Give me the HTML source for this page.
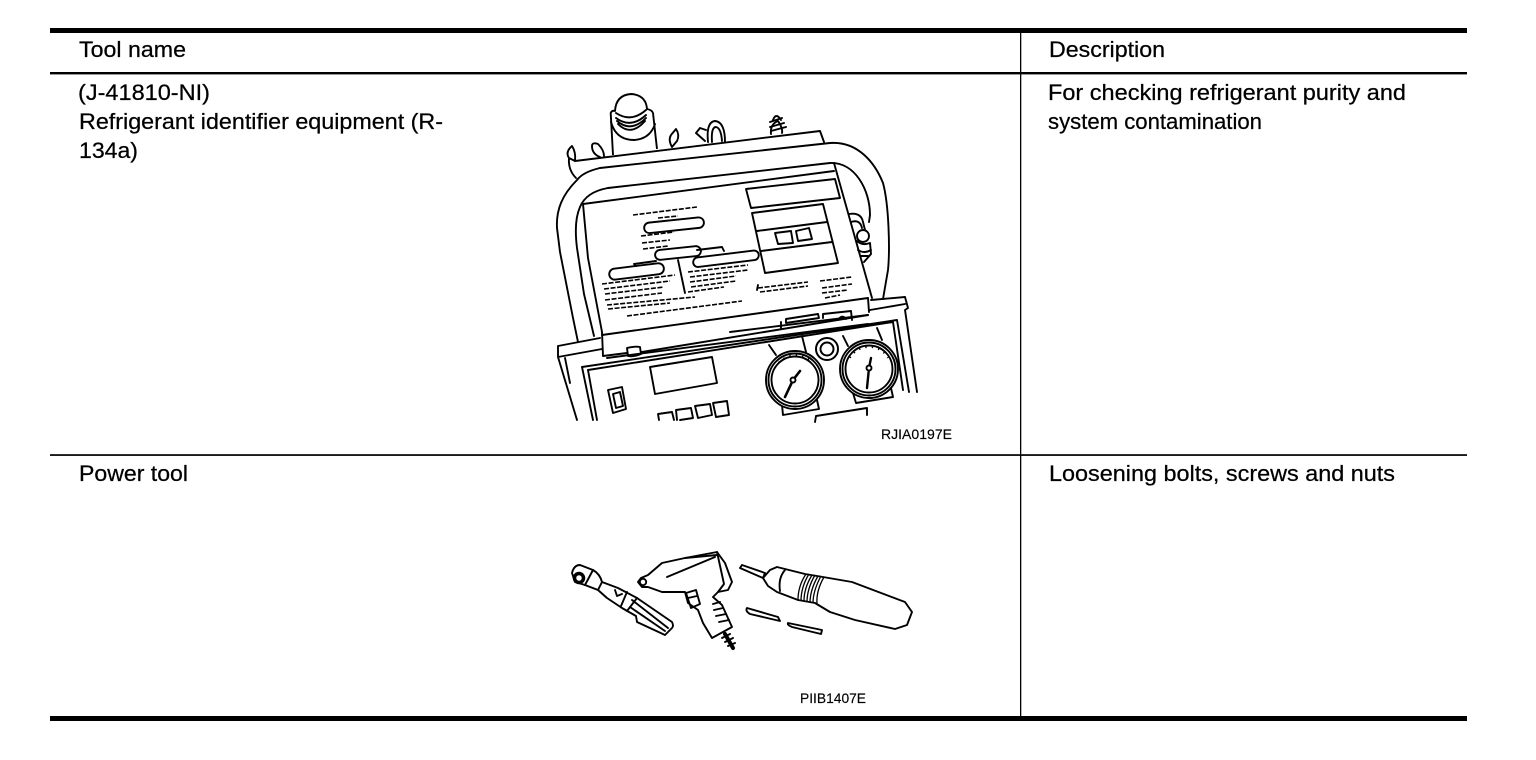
<!DOCTYPE html>
<html lang="en">
<head>
<meta charset="utf-8">
<title>Tool table</title>
<style>
html,body{margin:0;padding:0;background:#fff;}
svg{display:block;}
text{font-family:"Liberation Sans",Arial,sans-serif;fill:#000;}
.d{fill:none;stroke:#000;stroke-width:1.9;stroke-linejoin:round;stroke-linecap:round;}
.f{fill:#fff;stroke:#000;stroke-width:1.9;stroke-linejoin:round;}
.t{fill:none;stroke:#000;stroke-width:2;}
.g{fill:none;stroke:#000;stroke-width:1.3;}
.da{fill:none;stroke:#000;stroke-width:1.6;stroke-dasharray:5 1.6;}
.m{font-size:22.6px;stroke:#000;stroke-width:.25;}
.s{font-size:14px;stroke:#000;stroke-width:.15;}
</style>
</head>
<body>
<svg width="1536" height="760" viewBox="0 0 1536 760" xmlns="http://www.w3.org/2000/svg">
<rect width="1536" height="760" fill="#fff"/>

<!-- table rules -->
<rect x="50" y="28" width="1417" height="5" fill="#000"/>
<rect x="50" y="72" width="1417" height="2.4" fill="#000"/>
<rect x="50" y="454.2" width="1417" height="1.7" fill="#000"/>
<rect x="50" y="716" width="1417" height="5" fill="#000"/>
<rect x="1020" y="33" width="1.3" height="684" fill="#000"/>

<!-- text -->
<text class="m" x="79" y="57" textLength="107" lengthAdjust="spacingAndGlyphs">Tool name</text>
<text class="m" x="1049" y="57" textLength="116" lengthAdjust="spacingAndGlyphs">Description</text>
<text class="m" x="78" y="100" textLength="132" lengthAdjust="spacingAndGlyphs">(J-41810-NI)</text>
<text class="m" x="79" y="129" textLength="364" lengthAdjust="spacingAndGlyphs">Refrigerant identifier equipment (R-</text>
<text class="m" x="79" y="158" textLength="59" lengthAdjust="spacingAndGlyphs">134a)</text>
<text class="m" x="1048" y="100" textLength="358" lengthAdjust="spacingAndGlyphs">For checking refrigerant purity and</text>
<text class="m" x="1048" y="129" textLength="214" lengthAdjust="spacingAndGlyphs">system contamination</text>
<text class="m" x="79" y="481" textLength="109" lengthAdjust="spacingAndGlyphs">Power tool</text>
<text class="m" x="1049" y="481" textLength="346" lengthAdjust="spacingAndGlyphs">Loosening bolts, screws and nuts</text>
<text class="s" x="881" y="439" textLength="71" lengthAdjust="spacingAndGlyphs">RJIA0197E</text>
<text class="s" x="800" y="703" textLength="66" lengthAdjust="spacingAndGlyphs">PIIB1407E</text>

<!-- refrigerant identifier -->
<g>
  <!-- cylinder on top -->
  <path class="f" d="M613 155 L610.7 113 Q612 110 615 111 Q616 95 631 94 Q646 95 647 109 Q652 110 653 113 L657 149"/>
  <path class="d" d="M616 113 Q631 123 646 110 M616 118 Q631 129 646 115 M617 121 Q631 133 646 118 M618 124 Q631 137 645 121"/>
  <path class="d" d="M611 122 Q616 140 634 140 Q650 139 655 124"/>
  <!-- leaves / loops -->
  <path class="d" d="M575 161 L569 158 Q565 152 572 146 Q576 152 575 161 M569 158 Q568 170 576 178"/>
  <path class="d" d="M600 157 Q592 154 592 146 Q592 142 598 144 Q604 150 604 156"/>
  <path class="d" d="M672 147 Q668 140 671 135 L676 129 Q680 135 677 141 Z"/>
  <path class="d" d="M705 141 L696 133 L700 128 L706 130 M708 142 Q706 122 715 121 Q725 122 725 142 M712 142 Q711 127 716 127 Q721 128 722 141"/>
  <path class="d" d="M771 134 Q770 124 778 121 Q783 128 782 133"/>
  <path class="d" d="M770 122 L782 118 M770 127 L784 123 M771 131 L786 127 M773 120 Q776 112 781 120"/>
  <!-- knobs at right, behind handle -->
  <path class="d" d="M849 214 Q861 212 863 222 L866 234 M851 222 Q860 219 862 228"/>
  <circle class="f" cx="863" cy="236" r="6"/>
  <path class="d" d="M857 241 Q862 246 870 243 L871 254 L864 262 M858 250 Q864 254 871 250"/>
  <path class="d" d="M861 256 L868 256"/>

  <!-- handle -->
  <path class="d" d="M575 161 L820 131 L824 142"/>
  <path class="d" d="M600 168 L830 143 C858 141 875 163 883 183 C889 205 890 250 888 270 L883 299"/>
  <path class="d" d="M577 180 Q583 172 600 168 M577 180 C562 195 556 210 557 228 L560 252 L573 318 L578 342"/>
  <path class="d" d="M608 188 L830 163 C855 162 870 190 870 215 L869 222"/>
  <path class="d" d="M608 188 Q586 192 580 207 C575 218 575 232 577 248 L584 294 L594 336"/>
  <!-- device body -->
  <path class="d" d="M583 204 L834 171"/>
  <path class="d" d="M834 163 L872 298"/>
  <path class="d" d="M583 204 L588 258 L602 332 L603 356"/>
  <path class="d" d="M602 335 L868 298 L869 312"/>
  <path class="d" d="M603 356 L627 353 M642 352 L868 315"/>
  <path class="d" d="M627 348 Q636 346 640 347 L641 354 Q634 357 628 356 Z"/>
  <!-- displays -->
  <path class="d" d="M746 189 L835 179 L840 198 L751 208 Z"/>
  <path class="d" d="M752 213 L823 204 L838 263 L765 273 Z M757 231 L827 222 M761 251 L832 242"/>
  <path class="d" d="M775 233 L791 231 L793 243 L778 244 Z M796 231 L809 228 L812 239 L798 241 Z"/>
  <!-- pills -->
  <rect class="f" x="644" y="220" width="60" height="10.5" rx="5.2" transform="rotate(-6 674 225)"/>
  <rect class="f" x="655" y="248" width="46" height="10" rx="5" transform="rotate(-6 678 253)"/>
  <rect class="f" x="609" y="266" width="55" height="11" rx="5.5" transform="rotate(-7 636 271)"/>
  <rect class="f" x="693" y="254" width="66" height="9.5" rx="4.7" transform="rotate(-7 726 259)"/>
  <path class="d" d="M634 264 L656 261 M634 264 L636 266 M697 250 L722 247 L724 251"/>
  <path class="d" d="M678 260 L685 293"/>
  <!-- fine text -->
  <path class="da" d="M633 215 L697 207 M658 218 L678 216 M641 236 L674 232 M642 243 L670 240 M643 249 L668 246"/>
  <path class="da" d="M602 284 L675 275 M604 289 L670 281 M605 294 L664 287 M605 300 L662 293 M607 305 L695 297 M608 309 L670 303 M627 316 L742 301"/>
  <path class="da" d="M688 272 L748 265 M690 277 L748 270 M690 282 L736 276 M691 287 L736 281 M688 292 L724 287"/>
  <path class="da" d="M758 288 L808 282 M820 281 L852 277 M822 288 L852 284 M822 293 L848 290 M825 298 L840 295"/>
  <path class="d" d="M757 290 L758 285"/>
  <path class="da" d="M760 292 L808 286"/>
  <!-- bar on lower right of device -->
  <path class="d" d="M786 323 L786 319 L818 314 L819 318 Z M781 328 L781 322 M823 318 L823 314 L851 311 L852 320 M838 320 Q842 314 846 319"/>

  <!-- base -->
  <path class="d" d="M558 346 L600 338 M558 346 L558 357 L602 349 M558 357 L577 420 M565 358 L570 383"/>
  <path class="d" d="M870 310 L905 304 M871 300 L905 297 L908 308 L905 310 L917 392"/>
  <path class="d" d="M607 358 L868 324 M730 332 L868 315"/>
  <path class="d" d="M582 367 L897 320 L909 392 M588 370 L893 322 L903 390"/>
  <path class="d" d="M582 367 L593 420 M588 370 L597 420"/>
  <path class="d" d="M650 367 L712 357 L717 383 L655 394 Z"/>
  <path class="d" d="M608 390 L622 387 L626 409 L613 413 Z M613 394 L620 392 L623 406 L616 408 Z"/>
  <path class="d" d="M659 420 L658 414 L672 412 L674 420 M677 420 L676 410 L691 408 L693 418 L680 420 M695 406 L710 404 L712 415 L698 418 Z M713 403 L727 401 L729 415 L716 417 Z"/>
  <!-- gauges -->
  <path class="d" d="M769 345 L776 355 M802 336 L806 352 M843 336 L848 346 M877 328 L882 340"/>
  <circle class="t" cx="827" cy="349" r="11"/>
  <circle class="t" cx="827" cy="349" r="6.5"/>
  <path class="d" d="M782 405 L783 415 L819 409 L817 400"/>
  <path class="d" d="M853 393 L856 403 L893 397 L891 388"/>
  <path class="d" d="M815 422 L816 416 L867 408 L867 415"/>
  <circle class="f" cx="795" cy="380" r="29"/>
  <circle class="d" cx="795" cy="380" r="26.5"/>
  <circle class="d" cx="795" cy="380" r="23.5"/>
  <circle class="f" cx="869" cy="369" r="29"/>
  <circle class="d" cx="869" cy="369" r="26.5"/>
  <circle class="d" cx="869" cy="369" r="23.5"/>
  <path class="d" style="stroke-width:2.6" d="M785 397 L793 380 L800 371"/>
  <circle class="f" cx="793" cy="380" r="2.5"/>
  <path class="d" style="stroke-width:2.4" d="M867 388 L869 368 L871 358"/>
  <circle class="f" cx="869" cy="368" r="2.5"/>
  <path class="da" style="stroke-dasharray:1.4 5" d="M775 368 A23 23 0 0 1 812 362 M850 358 A22 22 0 0 1 888 358"/>
</g>

<!-- ratchet -->
<g>
  <path class="f" d="M572 573 Q574 565 580 565 L593 570 Q600 574 602 582 L618 588 L637 598 L672 622 Q674 626 672 628 L665 635 L637 622 L636 616 L622 608 L607 598 L598 590 L585 585 L575 582 Z"/>
  <circle class="d" style="stroke-width:3.5" cx="579" cy="578" r="4.5"/>
  <path class="d" d="M593 570 L585 585 M602 582 L598 590"/>
  <path class="d" d="M627 592 L621 606 M637 598 L627 611 M632 600 L668 628 M630 607 L665 631"/>
  <path class="d" d="M615 590 L617 596 L622 594"/>
</g>

<!-- impact gun -->
<g>
  <path class="f" d="M638 582 L641 578 L648 575 L662 563 L685 558 L717 552 L725 563 L732 582 L728 590 L718 592 L713 597 L722 605 L732 627 L712 638 L703 623 L698 610 L688 603 L685 592 L662 592 L648 587 L642 587 Z"/>
  <circle class="d" cx="643" cy="582" r="3.2"/>
  <path class="d" d="M667 577 L715 557 M685 558 L717 555 M717 552 L724 584 M724 584 L718 592"/>
  <path class="d" d="M686 593 L696 590 L700 604 L691 608 Z M688 598 L697 596"/>
  <path class="d" d="M713 604 L720 602 M714 610 L723 608 M716 616 L726 614 M719 622 L729 620"/>
  <path class="d" style="stroke-width:4" d="M725 634 L733 648"/>
  <path class="d" d="M722 638 L730 634 M725 642 L733 638 M728 646 L735 643"/>
</g>

<!-- screwdriver -->
<g>
  <path class="d" d="M740 568 L742 565 L765 573 L763 578 Z"/>
  <path class="f" d="M763 578 L770 570 L777 567 L805 574 L823 577 L852 582 L905 602 L912 612 L907 625 L895 629 L855 620 L830 612 L815 603 L798 600 L777 592 L768 586 Z"/>
  <path class="d" d="M785 570 Q778 578 780 591"/>
  <path class="g" d="M806 574 Q798 586 798 600 M809 574 Q801 587 801 601 M812 575 Q804 588 804 601 M815 575 Q807 589 807 602 M818 576 Q810 590 810 603 M821 576 Q813 591 813 603 M824 577 Q816 591 817 604"/>
  <path class="d" d="M747 608 L778 617 L780 621 L750 614 Q745 611 747 608 Z"/>
  <path class="d" d="M788 623 L822 630 L821 634 L792 627 Q787 625 788 623 Z"/>
</g>
</svg>
</body>
</html>
